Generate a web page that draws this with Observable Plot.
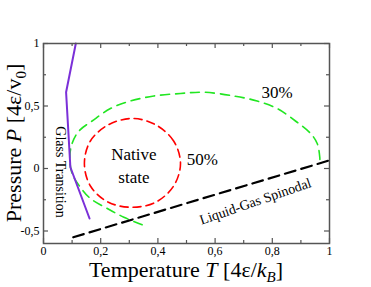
<!DOCTYPE html>
<html><head><meta charset="utf-8">
<script src="https://cdn.jsdelivr.net/npm/d3@7"></script>
<script src="https://cdn.jsdelivr.net/npm/@observablehq/plot@0.6"></script>
<style>body{margin:0;background:#fff}</style>
</head><body><div id="chart"></div>
<script>
// Glass transition line (solid purple)
const glassT = [0.113, 0.079, 0.094, 0.161];
const glassP = [1.0, 0.61, 0.01, -0.40];
// Liquid-gas spinodal (black dashed)
const spinT = [0.104, 1.0];
const spinP = [-0.55, 0.065];
// 50% native contour (red dashed, closed)
const c50T = [0.479, 0.455, 0.392, 0.311, 0.227, 0.164, 0.143, 0.164, 0.227, 0.311, 0.392, 0.455];
const c50P = [0.04, 0.22, 0.35, 0.40, 0.35, 0.22, 0.04, -0.14, -0.27, -0.31, -0.27, -0.14];
// 30% native contour (green dashed, open)
const c30T = [0.345, 0.281, 0.223, 0.164, 0.129, 0.100, 0.092, 0.100, 0.124, 0.170, 0.234, 0.304, 0.386, 0.479, 0.560, 0.665, 0.747, 0.817, 0.881, 0.934, 0.957, 0.966, 0.966];
const c30P = [-0.45, -0.39, -0.32, -0.24, -0.15, -0.04, 0.09, 0.20, 0.30, 0.38, 0.48, 0.54, 0.58, 0.60, 0.61, 0.58, 0.54, 0.48, 0.38, 0.28, 0.20, 0.09, 0.04];
// Ticks
const xTicks = [0, 0.2, 0.4, 0.6, 0.8, 1];
const xMinor = [0.1, 0.3, 0.5, 0.7, 0.9];
const yTicks = [-0.5, 0, 0.5, 1];
const yMinor = [-0.25, 0.25, 0.75];
// Annotations
const labelText = ["30%", "50%", "Native\nstate"];
const labelT = [0.817, 0.555, 0.316];
const labelP = [0.624, 0.09, 0.037];
const glassLabel = {text: "Glass Transition", T: 0.059, P: -0.028};
const spinLabel = {text: "Liquid-Gas Spinodal", T: 0.741, P: -0.264};

const toRows = (ts, ps) => ts.map((t, i) => ({T: t, P: ps[i]}));
const glass = toRows(glassT, glassP);
const spin = toRows(spinT, spinP);
const c50 = toRows(c50T, c50P);
const c30 = toRows(c30T, c30P);
const labels = labelText.map((s, i) => ({s, T: labelT[i], P: labelP[i]}));
const fmt = d => String(d).replace(".", ",");
const axisColor = "#555";
const serif = "Liberation Serif";

const H = 287, mT = 43, mB = 44, W = 371, mL = 43, mR = 42;
const innerH = H - mT - mB, innerW = W - mL - mR;

const chart = Plot.plot({
  width: W, height: H,
  marginLeft: mL, marginRight: mR, marginTop: mT, marginBottom: mB,
  x: {domain: [0, 1]},
  y: {domain: [-0.6, 1]},
  style: {fontFamily: serif, fontSize: "12px", background: "white", color: "black"},
  marks: [
    Plot.axisX({ticks: xTicks, tickSize: 0, tickPadding: 3, tickFormat: fmt, label: null, fontSize: 12, fontFamily: serif}),
    Plot.axisY({ticks: yTicks, tickSize: 0, tickPadding: 4, tickFormat: fmt, label: null, fontSize: 12, fontFamily: serif}),
    // inward ticks on all four sides
    Plot.tickX(xTicks, {x: d => d, insetTop: innerH - 5, stroke: axisColor, strokeWidth: 1.2}),
    Plot.tickX(xTicks, {x: d => d, insetBottom: innerH - 5, stroke: axisColor, strokeWidth: 1.2}),
    Plot.tickX(xMinor, {x: d => d, insetTop: innerH - 3, stroke: axisColor, strokeWidth: 1.2}),
    Plot.tickX(xMinor, {x: d => d, insetBottom: innerH - 3, stroke: axisColor, strokeWidth: 1.2}),
    Plot.tickY(yTicks, {y: d => d, insetRight: innerW - 5, stroke: axisColor, strokeWidth: 1.2}),
    Plot.tickY(yTicks, {y: d => d, insetLeft: innerW - 5, stroke: axisColor, strokeWidth: 1.2}),
    Plot.tickY(yMinor, {y: d => d, insetRight: innerW - 3, stroke: axisColor, strokeWidth: 1.2}),
    Plot.tickY(yMinor, {y: d => d, insetLeft: innerW - 3, stroke: axisColor, strokeWidth: 1.2}),
    Plot.line(c30, {x: "T", y: "P", stroke: "#22e622", strokeWidth: 1.6, strokeDasharray: "9,6", curve: "catmull-rom"}),
    Plot.line(c50, {x: "T", y: "P", stroke: "#ff0000", strokeWidth: 1.6, strokeDasharray: "8,5", curve: "catmull-rom-closed"}),
    Plot.line(spin, {x: "T", y: "P", stroke: "black", strokeWidth: 2.2, strokeDasharray: "11,6"}),
    Plot.line(glass, {x: "T", y: "P", stroke: "#7b30d8", strokeWidth: 2}),
    Plot.text(labels, {x: "T", y: "P", text: "s", fontSize: 17, lineHeight: 1.37, fill: "black", fontFamily: serif}),
    Plot.text([glassLabel], {x: "T", y: "P", text: "text", rotate: 90, fontSize: 14, fill: "black", fontFamily: serif}),
    Plot.text([spinLabel], {x: "T", y: "P", text: "text", rotate: -19, fontSize: 14, fill: "black", fontFamily: serif}),
    Plot.frame({stroke: axisColor, strokeWidth: 1.5})
  ]
});

// axis titles with italics and subscripts
const svg = d3.select(chart);
const xl = svg.append("text")
  .attr("x", mL + innerW / 2).attr("y", H - 10)
  .attr("text-anchor", "middle").attr("font-family", serif).attr("font-size", 22).attr("fill", "black");
xl.append("tspan").text("Temperature ");
xl.append("tspan").attr("font-style", "italic").text("T");
xl.append("tspan").text(" [4ε/");
xl.append("tspan").attr("font-style", "italic").text("k");
xl.append("tspan").attr("font-style", "italic").attr("font-size", 15).attr("dy", 5).text("B");
xl.append("tspan").attr("dy", -5).text("]");

const yl = svg.append("text")
  .attr("transform", `translate(21,${mT + innerH / 2}) rotate(-90)`)
  .attr("text-anchor", "middle").attr("font-family", serif).attr("font-size", 22).attr("fill", "black");
yl.append("tspan").text("Pressure ");
yl.append("tspan").attr("font-style", "italic").text("P");
yl.append("tspan").text(" [4ε/v");
yl.append("tspan").attr("font-size", 15).attr("dy", 5).text("0");
yl.append("tspan").attr("dy", -5).text("]");

document.getElementById("chart").appendChild(chart);
</script>
</body></html>
